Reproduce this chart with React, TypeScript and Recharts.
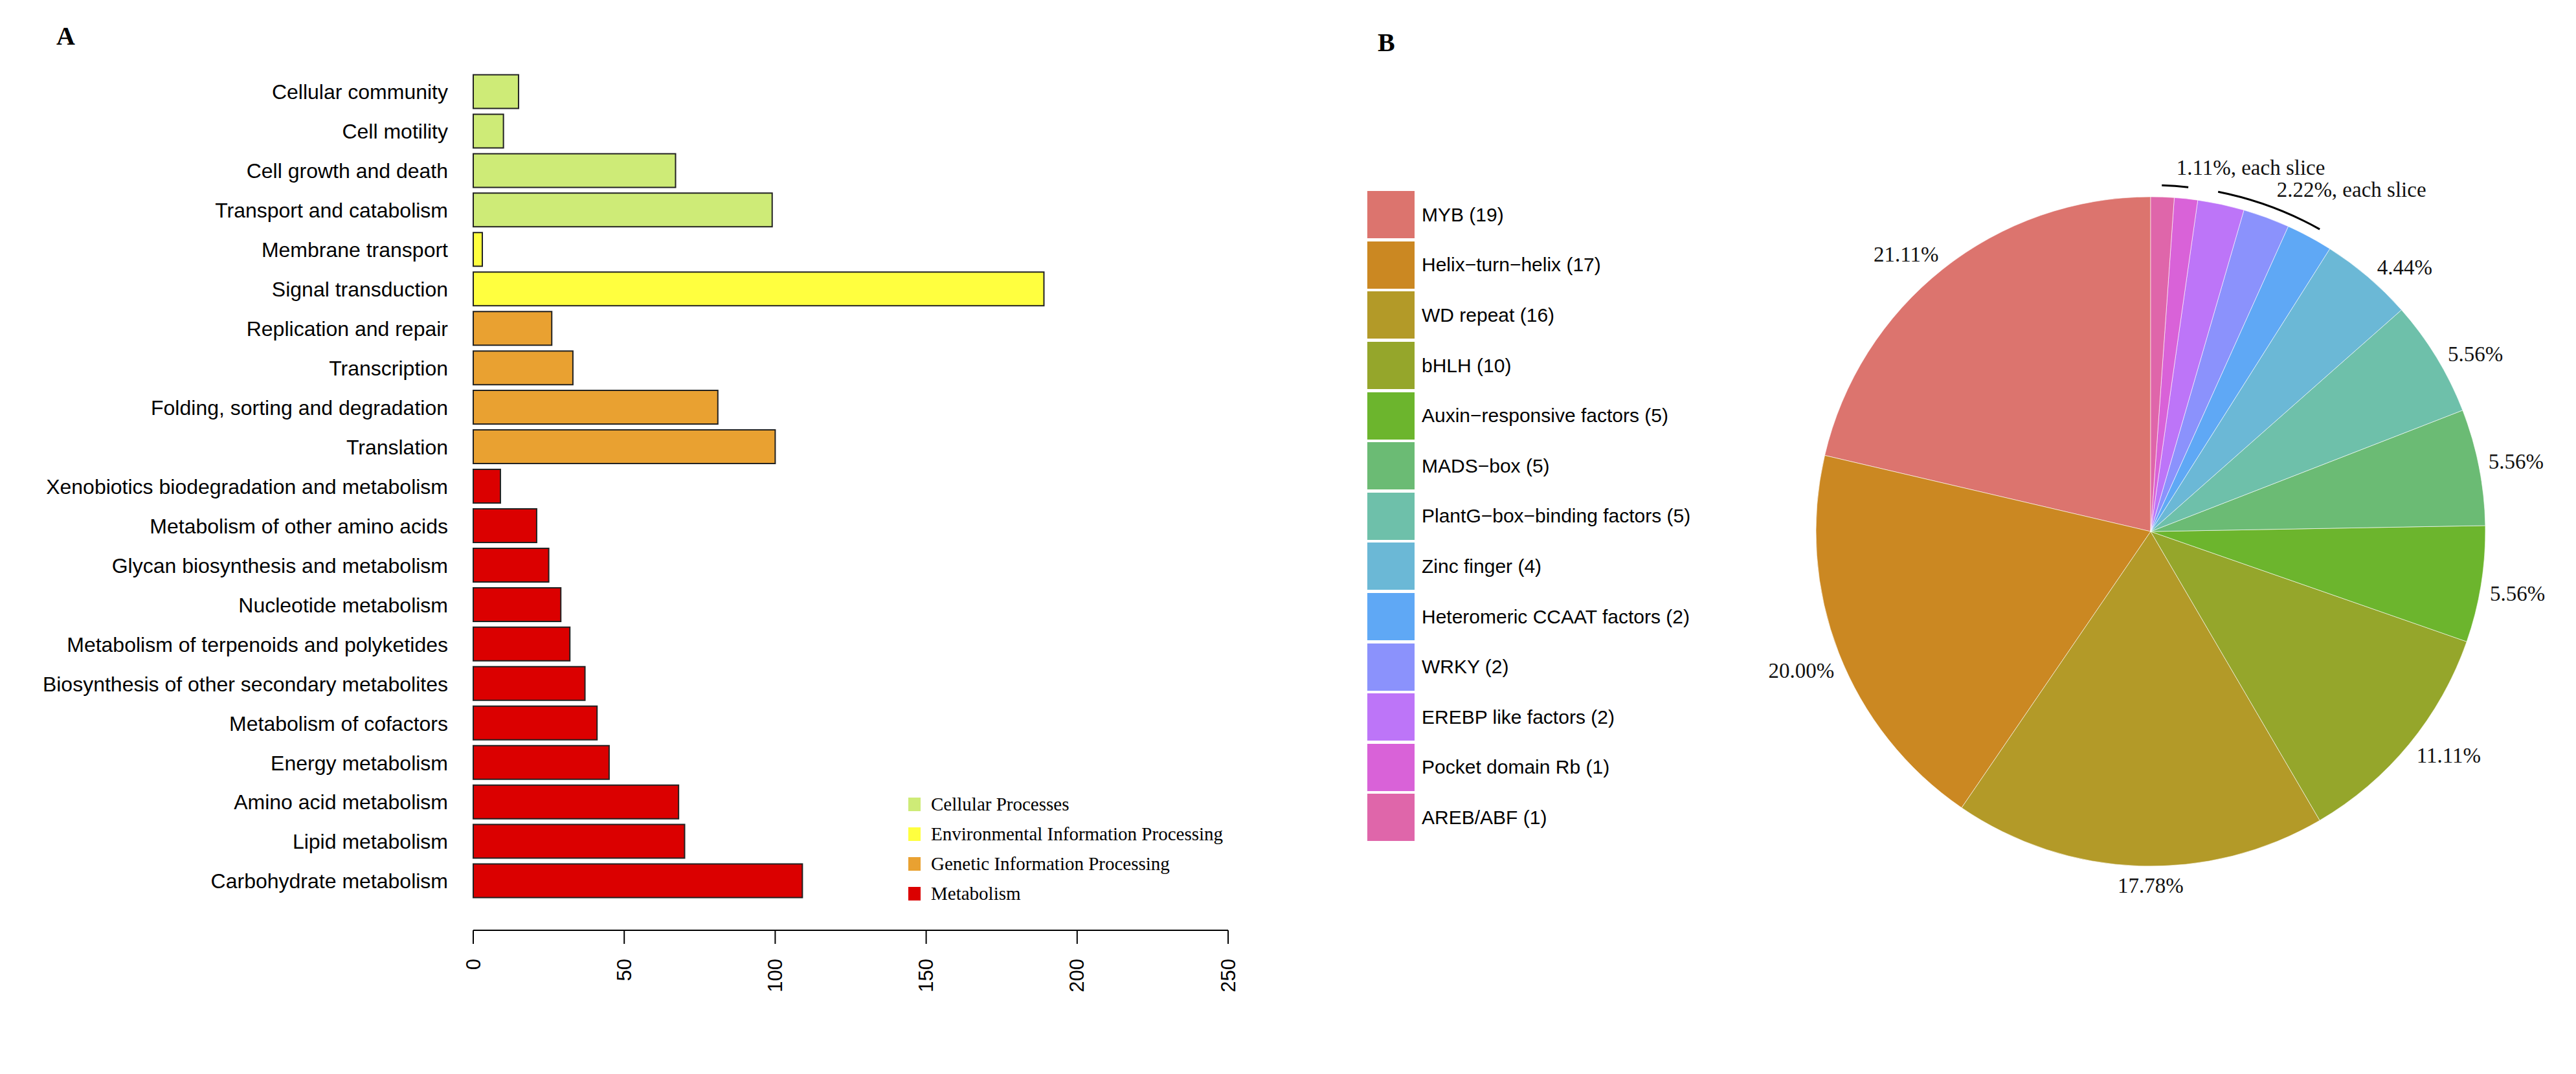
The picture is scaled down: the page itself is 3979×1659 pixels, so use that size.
import React from 'react';
import { BarChart, Bar, XAxis, YAxis, Cell, Legend, PieChart, Pie } from 'recharts';

// ---- panel A: KEGG pathway counts ----
const pathways = [
  'Cellular community',
  'Cell motility',
  'Cell growth and death',
  'Transport and catabolism',
  'Membrane transport',
  'Signal transduction',
  'Replication and repair',
  'Transcription',
  'Folding, sorting and degradation',
  'Translation',
  'Xenobiotics biodegradation and metabolism',
  'Metabolism of other amino acids',
  'Glycan biosynthesis and metabolism',
  'Nucleotide metabolism',
  'Metabolism of terpenoids and polyketides',
  'Biosynthesis of other secondary metabolites',
  'Metabolism of cofactors',
  'Energy metabolism',
  'Amino acid metabolism',
  'Lipid metabolism',
  'Carbohydrate metabolism',
];
const pathwayCounts = [15, 10, 67, 99, 3, 189, 26, 33, 81, 100, 9, 21, 25, 29, 32, 37, 41, 45, 68, 70, 109];
const pathwayGroup = [0, 0, 0, 0, 1, 1, 2, 2, 2, 2, 3, 3, 3, 3, 3, 3, 3, 3, 3, 3, 3];
const groupNames = [
  'Cellular Processes',
  'Environmental Information Processing',
  'Genetic Information Processing',
  'Metabolism',
];
const groupColors = ['#CEEB77', '#FFFF3F', '#E9A131', '#DB0000'];
const xTicks = [0, 50, 100, 150, 200, 250];

// ---- panel B: transcription factor families ----
const families = [
  'MYB',
  'Helix\u2212turn\u2212helix',
  'WD repeat',
  'bHLH',
  'Auxin\u2212responsive factors',
  'MADS\u2212box',
  'PlantG\u2212box\u2212binding factors',
  'Zinc finger',
  'Heteromeric CCAAT factors',
  'WRKY',
  'EREBP like factors',
  'Pocket domain Rb',
  'AREB/ABF',
];
const familyCounts = [19, 17, 16, 10, 5, 5, 5, 4, 2, 2, 2, 1, 1];
const familyColors = [
  '#DC746E', '#CB8822', '#B39A28', '#95A62B', '#6CB52D', '#6BBB74', '#6EC0AA',
  '#6BB8D6', '#5FA8F5', '#8B92FC', '#BD75F8', '#D962D8', '#DF66AA',
];
const sliceLabels = ['21.11%', '20.00%', '17.78%', '11.11%', '5.56%', '5.56%', '5.56%', '4.44%', '', '', '', '', ''];
const sliceGroups = [
  { note: '2.22%, each slice', first: 8, last: 10 },
  { note: '1.11%, each slice', first: 11, last: 12 },
];

// small angular nudges (deg) the original applied to the slice labels
const labelNudge = [3, 0.5, 2, 2.5, -0.5, -0.3, -2.7, -3.4, 0, 0, 0, 0, 0];

const barData = pathways.map((name, i) => ({ name, count: pathwayCounts[i], group: pathwayGroup[i] }));
const pieData = families.map((name, i) => ({ name, value: familyCounts[i] }));

const SANS = '"Liberation Sans", Arial, sans-serif';
const SERIF = '"Liberation Serif", "Times New Roman", serif';
const RAD = Math.PI / 180;

function RotatedTick(props: any) {
  const { x, y, payload } = props;
  return (
    <text
      x={x}
      y={y}
      transform={`rotate(-90 ${x} ${y})`}
      textAnchor="end"
      dominantBaseline="central"
      fontSize={31}
      fontFamily={SANS}
      fill="#000"
    >
      {payload.value}
    </text>
  );
}

function pathwayLegend() {
  return (
    <div style={{ fontFamily: SERIF, fontSize: 29, color: '#000' }}>
      {groupNames.map((g, i) => (
        <div key={g} style={{ display: 'flex', alignItems: 'center', height: 46 }}>
          <div style={{ width: 19, height: 21, background: groupColors[i], marginRight: 16 }} />
          <span style={{ whiteSpace: 'nowrap' }}>{g}</span>
        </div>
      ))}
    </div>
  );
}

function familyLegend() {
  return (
    <div style={{ fontFamily: SANS, fontSize: 30, color: '#000' }}>
      {families.map((f, i) => (
        <div key={f} style={{ display: 'flex', alignItems: 'center', height: 77.6 }}>
          <div style={{ width: 73, height: 73, background: familyColors[i], marginRight: 11 }} />
          <span style={{ whiteSpace: 'nowrap' }}>{`${f} (${familyCounts[i]})`}</span>
        </div>
      ))}
    </div>
  );
}

const total = familyCounts.reduce((s, v) => s + v, 0);
const cumBefore = (i: number) => familyCounts.slice(0, i).reduce((s, v) => s + v, 0);

function polar(cx: number, cy: number, r: number, deg: number) {
  return [cx + r * Math.cos(-deg * RAD), cy + r * Math.sin(-deg * RAD)];
}

function pieLabel(props: any) {
  const { cx, cy, midAngle, outerRadius, index } = props;
  const text = sliceLabels[index];
  if (text) {
    const a = midAngle + labelNudge[index];
    const r = outerRadius + 30 + (text.length * 8.4 - 14) * Math.abs(Math.cos(a * RAD));
    const [x, y] = polar(cx, cy, r, a);
    return (
      <text x={x} y={y} textAnchor="middle" dominantBaseline="central" fontSize={33} fontFamily={SERIF} fill="#111">
        {text}
      </text>
    );
  }
  const grp = sliceGroups.find((g) => g.first === index);
  if (!grp) return <g />;
  const a0 = 90 + (cumBefore(grp.first) / total) * 360;
  const a1 = 90 + (cumBefore(grp.last + 1) / total) * 360;
  const inset = 1.2 + 0.08 * (a1 - a0);
  const ra = outerRadius + 18;
  const [x0, y0] = polar(cx, cy, ra, a0 + inset);
  const [x1, y1] = polar(cx, cy, ra, a1 - inset);
  const [tx, ty] = polar(cx, cy, outerRadius + 46, (a0 + a1) / 2);
  return (
    <g>
      <path d={`M${x0},${y0} A${ra},${ra} 0 0 0 ${x1},${y1}`} fill="none" stroke="#000" strokeWidth={3} />
      <text x={tx} y={ty} textAnchor="start" dominantBaseline="central" fontSize={33} fontFamily={SERIF} fill="#111">
        {grp.note}
      </text>
    </g>
  );
}

export default function App() {
  return (
    <div style={{ position: 'absolute', left: 0, top: 0, width: 3979, height: 1659, background: '#fff', overflow: 'hidden' }}>
      <svg width={3979} height={120} style={{ position: 'absolute', left: 0, top: 0 }}>
        <text x={87} y={69} fontSize={40} fontWeight="bold" fontFamily={SERIF}>A</text>
        <text x={2128} y={79} fontSize={40} fontWeight="bold" fontFamily={SERIF}>B</text>
      </svg>

      <div style={{ position: 'absolute', left: 0, top: 0 }}>
        <BarChart
          width={2000}
          height={1659}
          data={barData}
          layout="vertical"
          margin={{ top: 111.5, right: 103, bottom: 102, left: 0 }}
        >
          <XAxis
            type="number"
            domain={[0, 250]}
            ticks={xTicks}
            height={120}
            tickSize={21}
            tickMargin={23}
            axisLine={{ stroke: '#000', strokeWidth: 2 }}
            tickLine={{ stroke: '#000', strokeWidth: 2 }}
            tick={<RotatedTick />}
          />
          <YAxis
            type="category"
            dataKey="name"
            width={731}
            interval={0}
            tickSize={0}
            tickMargin={39}
            axisLine={false}
            tickLine={false}
            padding={{ top: 0, bottom: 45.5 }}
            tick={{ fontSize: 32, fill: '#000', fontFamily: SANS }}
          />
          <Legend
            layout="vertical"
            align="center"
            verticalAlign="middle"
            content={pathwayLegend}
            wrapperStyle={{ left: 1403, top: 1219, width: 580, height: 184 }}
          />
          <Bar dataKey="count" barSize={52} isAnimationActive={false}>
            {barData.map((d, i) => (
              <Cell key={i} fill={groupColors[d.group]} stroke="#222" strokeWidth={2} />
            ))}
          </Bar>
        </BarChart>
      </div>

      <div style={{ position: 'absolute', left: 2000, top: 0 }}>
        <PieChart width={1979} height={1659} margin={{ top: 0, right: 0, bottom: 0, left: 0 }}>
          <Legend
            layout="vertical"
            align="center"
            verticalAlign="middle"
            content={familyLegend}
            wrapperStyle={{ left: 112, top: 293, width: 600, height: 1010 }}
          />
          <Pie
            data={pieData}
            dataKey="value"
            nameKey="name"
            cx={1322}
            cy={821}
            outerRadius={517}
            startAngle={90}
            endAngle={450}
            stroke="#fff"
            strokeWidth={0.6}
            label={pieLabel}
            labelLine={false}
            isAnimationActive={false}
          >
            {pieData.map((d, i) => (
              <Cell key={d.name} fill={familyColors[i]} />
            ))}
          </Pie>
        </PieChart>
      </div>
    </div>
  );
}
